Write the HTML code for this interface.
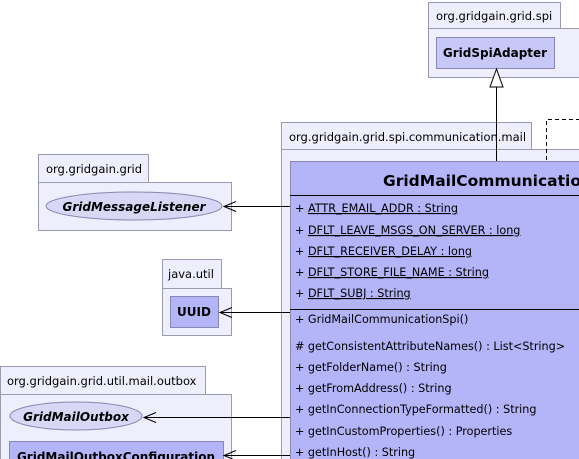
<!DOCTYPE html>
<html><head><meta charset="utf-8"><style>
html,body{margin:0;padding:0;background:#fff;width:579px;height:459px;overflow:hidden}
svg{display:block}
text{font-family:"DejaVu Sans","Liberation Sans",sans-serif;fill:#000}
</style></head><body>
<svg width="579" height="459" viewBox="0 0 579 459" xmlns="http://www.w3.org/2000/svg">
<g stroke="#9a9ab0" stroke-width="1" fill="#eeeefc">
<rect x="428.5" y="2.5" width="132" height="26"/>
<rect x="428.5" y="28.5" width="160" height="49"/>
<rect x="281.5" y="122.5" width="250" height="27"/>
<rect x="281.5" y="149.5" width="310" height="320"/>
<rect x="38.5" y="154.5" width="110" height="28"/>
<rect x="38.5" y="182.5" width="193" height="48"/>
<rect x="162.5" y="259.5" width="59" height="29"/>
<rect x="162.5" y="288.5" width="69" height="47"/>
<rect x="0.5" y="366.5" width="205" height="28"/>
<rect x="0.5" y="394.5" width="231" height="80"/>
</g>
<g font-size="11.5">
<text x="436" y="20">org.gridgain.grid.spi</text>
<text x="289" y="141">org.gridgain.grid.spi.communication.mail</text>
<text x="46" y="173">org.gridgain.grid</text>
<text x="168" y="278">java.util</text>
<text x="7" y="385">org.gridgain.grid.util.mail.outbox</text>
</g>
<rect x="436.5" y="37.5" width="118" height="31" fill="#c8c8f8" stroke="#8888b0"/>
<text x="495" y="57" font-size="12" font-weight="bold" text-anchor="middle">GridSpiAdapter</text>
<ellipse cx="134" cy="206" rx="88" ry="14" fill="#d8d8f6" stroke="#8888b0"/>
<text x="134" y="211" font-size="12" font-weight="bold" font-style="italic" text-anchor="middle">GridMessageListener</text>
<rect x="170.5" y="296.5" width="48" height="31" fill="#b4b4f8" stroke="#8888b0"/>
<text x="194" y="316" font-size="12" font-weight="bold" text-anchor="middle">UUID</text>
<ellipse cx="76" cy="416" rx="66" ry="14" fill="#d8d8f6" stroke="#8888b0"/>
<text x="76" y="421" font-size="12" font-weight="bold" font-style="italic" text-anchor="middle">GridMailOutbox</text>
<rect x="9.5" y="441.5" width="214" height="30" fill="#b4b4f8" stroke="#8888b0"/>
<text x="116" y="461" font-size="12" font-weight="bold" text-anchor="middle">GridMailOutboxConfiguration</text>
<rect x="290.5" y="161.5" width="300" height="310" fill="#b4b4f8" stroke="#8888b0"/>
<line x1="290" y1="195.5" x2="579" y2="195.5" stroke="#000"/>
<line x1="290" y1="309.5" x2="579" y2="309.5" stroke="#000"/>
<text x="383" y="186" font-size="15.5" font-weight="bold">GridMailCommunicationSpi</text>
<g font-size="11.2">
<text x="295" y="212">+ <tspan text-decoration="underline">ATTR_EMAIL_ADDR : String </tspan></text>
<text x="295" y="234">+ <tspan text-decoration="underline">DFLT_LEAVE_MSGS_ON_SERVER : long </tspan></text>
<text x="295" y="255">+ <tspan text-decoration="underline">DFLT_RECEIVER_DELAY : long </tspan></text>
<text x="295" y="276">+ <tspan text-decoration="underline">DFLT_STORE_FILE_NAME : String </tspan></text>
<text x="295" y="297">+ <tspan text-decoration="underline">DFLT_SUBJ : String </tspan></text>
<text x="295" y="323">+ GridMailCommunicationSpi()</text>
<text x="295" y="350">#  getConsistentAttributeNames() : List&lt;String&gt;</text>
<text x="295" y="371">+ getFolderName() : String</text>
<text x="295" y="392">+ getFromAddress() : String</text>
<text x="295" y="413">+ getInConnectionTypeFormatted() : String</text>
<text x="295" y="435">+ getInCustomProperties() : Properties</text>
<text x="295" y="456">+ getInHost() : String</text>
</g>
<g stroke="#000" fill="none" stroke-width="1">
<line x1="496.5" y1="87" x2="496.5" y2="161"/>
<polygon points="496.5,69 490,87 503,87" fill="#fff"/>
<path d="M546.5 160 V119.5 H579" stroke-dasharray="4,3"/>
<line x1="224" y1="206.5" x2="290" y2="206.5"/>
<path d="M236 201.5 L224 206.5 L236 211.5"/>
<line x1="220" y1="312.5" x2="290" y2="312.5"/>
<path d="M232 307.5 L220 312.5 L232 317.5"/>
<line x1="144" y1="417.5" x2="290" y2="417.5"/>
<path d="M156 412.5 L144 417.5 L156 422.5"/>
<line x1="224" y1="455.5" x2="290" y2="455.5"/>
<path d="M236 450.5 L224 455.5 L236 460.5"/>
</g>
</svg>
</body></html>
